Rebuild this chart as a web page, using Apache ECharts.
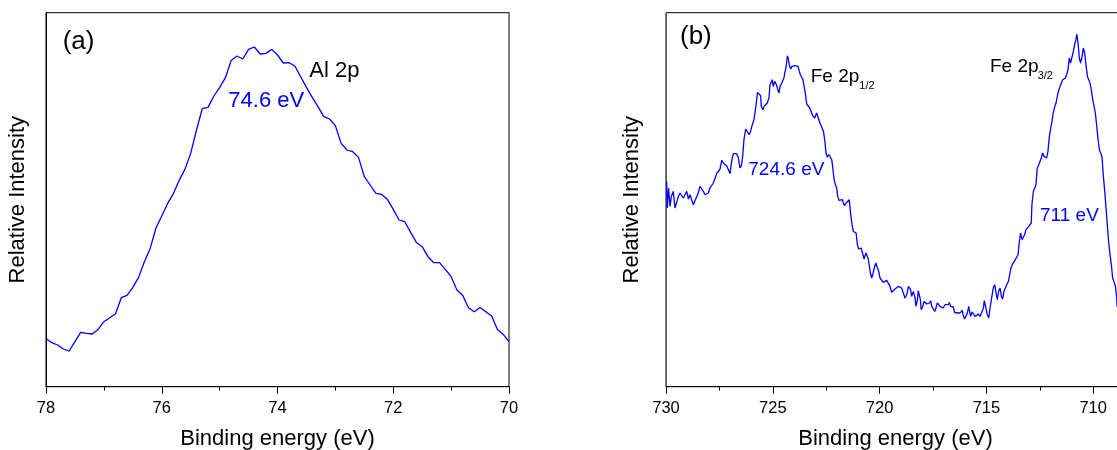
<!DOCTYPE html>
<html>
<head>
<meta charset="utf-8">
<script src="https://cdn.jsdelivr.net/npm/echarts@6/dist/echarts.min.js"></script>
<style>
html,body{margin:0;padding:0;background:#fff;}
#chart{width:1117px;height:450px;}
</style>
</head>
<body>
<div id="chart"></div>
<script>
// ---------- Panel (a): Al 2p ----------
var alEnergy = [78.0,77.9,77.8,77.7,77.6,77.5,77.4,77.3,77.2,77.1,
  77.0,76.9,76.8,76.7,76.6,76.5,76.4,76.3,76.2,76.1,
  76.0,75.9,75.8,75.7,75.6,75.5,75.4,75.3,75.2,75.1,
  75.0,74.9,74.8,74.7,74.6,74.5,74.4,74.3,74.2,74.1,
  74.0,73.9,73.8,73.7,73.6,73.5,73.4,73.3,73.2,73.1,
  73.0,72.9,72.8,72.7,72.6,72.5,72.4,72.3,72.2,72.1,
  72.0,71.9,71.8,71.7,71.6,71.5,71.4,71.3,71.2,71.1,
  71.0,70.9,70.8,70.7,70.6,70.5,70.4,70.3,70.2,70.1,70.0];
var alIntensity = [48.3,44.0,41.7,37.7,35.7,45.0,54.3,53.3,52.7,57.3,
  65.0,69.0,72.7,89.0,91.3,99.3,109.3,125.0,138.3,158.7,
  170.7,183.0,193.0,206.3,217.3,233.3,256.7,278.0,279.3,290.7,
  299.0,309.0,326.3,330.7,327.7,337.3,339.7,332.7,333.3,337.3,
  331.7,323.7,324.0,320.7,310.0,299.3,289.3,280.0,270.0,267.7,
  261.0,243.3,236.7,235.0,229.3,210.0,201.7,193.3,192.3,187.3,
  177.3,166.7,165.0,154.3,144.3,140.0,130.0,124.0,124.0,117.3,
  110.0,96.7,91.3,79.0,75.0,79.3,75.0,70.7,57.3,52.3,45.0];
var alTicks = [78, 76, 74, 72, 70];

// ---------- Panel (b): Fe 2p ----------
var feEnergy = [729.97,729.94,729.88,729.81,729.75,729.66,729.58,729.50,729.42,729.34,
  729.27,729.19,729.11,729.03,728.95,728.88,728.80,728.72,728.64,728.56,
  728.49,728.41,728.33,728.25,728.17,728.10,728.02,727.94,727.86,727.78,
  727.71,727.63,727.55,727.47,727.39,727.32,727.24,727.16,727.08,727.00,
  726.93,726.85,726.77,726.69,726.61,726.54,726.47,726.41,726.35,726.27,
  726.19,726.11,726.04,725.96,725.88,725.83,725.77,725.72,725.65,725.57,
  725.54,725.46,725.41,725.33,725.26,725.18,725.13,725.07,725.02,724.98,
  724.91,724.83,724.76,724.71,724.66,724.58,724.54,724.48,724.44,724.40,
  724.35,724.32,724.27,724.23,724.16,724.10,724.05,723.98,723.90,723.82,
  723.77,723.71,723.65,723.59,723.54,723.48,723.41,723.35,723.27,723.20,
  723.13,723.04,722.95,722.87,
  722.79,722.71,722.63,722.56,722.51,722.45,722.37,722.32,722.24,722.20,
  722.13,722.07,722.01,721.96,721.90,721.82,721.74,721.70,721.64,721.57,
  721.50,721.42,721.35,721.29,721.23,721.15,721.10,721.04,720.98,720.92,
  720.86,720.79,720.73,720.68,720.64,720.61,720.54,720.50,720.43,720.37,
  720.31,720.25,720.18,720.11,720.04,719.98,719.90,719.83,719.75,719.67,
  719.59,719.51,719.44,719.36,719.28,719.20,719.12,719.04,718.97,718.89,
  718.81,718.73,718.65,718.61,718.55,718.50,718.42,718.34,718.30,718.23,
  718.19,718.14,718.09,718.05,717.98,717.92,717.86,717.80,717.73,717.67,
  717.61,717.56,717.48,717.42,717.36,717.30,717.23,717.17,717.09,717.02,
  716.94,716.86,716.78,716.74,716.67,716.61,716.55,716.49,716.42,716.36,
  716.28,716.24,716.19,716.13,716.08,716.02,715.96,715.89,715.83,715.77,
  715.74,715.67,715.61,715.53,715.46,715.38,715.30,715.22,715.14,715.10,
  715.02,714.96,714.89,714.83,714.75,714.68,714.61,714.55,714.49,714.43,
  714.36,714.30,714.24,714.18,714.11,714.05,713.97,713.90,713.85,713.79,
  713.71,713.65,713.58,713.52,713.46,713.40,713.33,713.27,713.21,713.15,
  713.08,713.02,712.96,712.90,712.87,712.80,712.74,712.68,712.62,712.55,
  712.49,712.43,712.37,712.30,712.24,712.18,712.12,712.05,711.99,711.93,
  711.87,711.80,711.74,711.68,711.62,711.55,711.49,711.43,711.37,711.30,
  711.24,711.18,711.12,711.06,710.99,710.93,710.87,710.81,710.77,710.71,
  710.65,710.59,710.52,710.46,710.40,710.34,710.27,710.21,710.15,710.09,
  710.02,709.96,709.90,709.84,709.78,709.71,709.65,709.59,709.53,709.46,
  709.40,709.34,709.28,709.21,709.15,709.09,709.03,708.96,708.90,708.88];
var feIntensity = [205.3,178.7,198.7,180.3,190.3,195.3,178.7,177.0,190.3,193.7,
  192.0,188.7,192.0,195.3,187.7,192.0,193.7,182.0,183.0,190.3,
  193.7,200.3,198.7,195.3,192.0,191.0,193.7,198.7,200.3,203.7,
  203.0,213.0,214.3,217.7,226.3,223.7,222.0,221.0,217.0,213.0,
  225.3,233.0,234.3,233.0,228.7,218.7,221.0,230.3,247.0,257.7,
  259.7,252.0,255.3,262.0,267.0,268.7,283.7,294.3,293.0,291.0,
  280.3,277.0,280.3,282.0,283.7,288.7,302.0,303.7,307.0,300.3,
  305.3,302.0,297.0,293.7,300.3,303.7,304.3,308.7,313.7,317.0,
  324.3,331.0,327.7,322.0,317.7,320.3,319.7,321.0,322.7,320.3,
  316.3,312.0,309.7,307.0,305.3,293.7,282.7,281.0,278.7,277.0,
  271.0,268.7,273.7,268.7,
  263.7,259.7,255.3,245.3,233.7,229.7,232.0,233.0,227.0,220.3,
  207.0,202.0,198.7,190.3,186.3,185.3,187.0,184.3,181.0,183.7,
  185.3,187.0,172.0,162.0,155.3,156.0,153.7,142.0,137.7,136.3,
  138.7,137.0,127.7,127.0,133.7,134.3,128.7,123.7,113.7,108.7,
  113.0,118.7,123.7,123.0,115.3,108.7,107.0,104.3,106.0,106.3,
  104.3,100.3,94.3,95.3,97.7,99.7,100.3,101.0,98.7,93.7,
  88.7,92.0,100.3,102.0,97.0,90.3,95.3,88.7,80.3,87.0,
  96.0,95.3,87.0,77.0,80.3,85.3,86.0,82.7,84.7,83.7,
  86.0,80.3,77.7,75.3,78.7,83.7,82.0,80.3,79.7,78.7,
  82.0,83.7,82.0,84.3,80.3,78.7,79.7,74.3,73.7,73.7,
  72.0,73.7,73.7,76.3,71.0,67.7,67.0,73.7,80.3,81.0,
  70.3,74.7,74.7,70.3,72.0,72.7,70.3,68.7,78.7,86.0,
  78.7,72.0,68.7,78.7,89.3,98.7,102.0,93.7,87.0,95.3,
  98.7,90.3,87.7,95.3,98.7,102.0,105.3,107.0,118.7,122.0,
  121.3,127.0,128.7,132.0,144.7,153.7,147.0,145.3,152.0,157.0,
  158.0,160.3,162.0,163.7,182.0,195.3,198.7,202.0,218.7,222.0,
  223.7,228.7,233.7,230.3,230.3,228.7,235.3,250.3,258.7,265.3,
  273.7,280.3,283.7,290.3,296.0,300.3,303.7,307.0,305.3,308.7,
  312.0,317.0,328.7,323.7,325.3,335.3,342.0,347.0,352.7,343.7,
  328.7,323.7,330.3,338.7,333.7,322.0,310.3,309.3,303.7,297.0,
  287.0,280.3,273.7,262.0,248.7,237.0,233.7,230.3,212.0,195.3,
  178.7,162.0,145.3,132.0,122.0,108.7,105.3,100.3,88.7,80.0];
var feTicks = [730, 725, 720, 715, 710];

var FONT = 'Liberation Sans, Arial, Helvetica, sans-serif';
var BLUE = '#0000ff';

function zip(xs, ys){ return xs.map(function(x,i){ return [x, ys[i]]; }); }

function xAxisCfg(gridIndex, min, max, nameShown){
  return {
    type:'value', gridIndex:gridIndex, inverse:true, min:min, max:max, interval:(gridIndex===0?2:5),
    name: nameShown ? 'Binding energy (eV)' : '',
    nameLocation:'middle', nameGap:41,
    nameTextStyle:{fontSize:22, color:'#000', fontFamily:FONT},
    axisLine:{show:true, onZero:false, lineStyle:{color:'#000', width:1}},
    axisTick:{show:true, inside:false, length:7, lineStyle:{color:'#000', width:1}},
    minorTick:{show:true, splitNumber:2, length:4, lineStyle:{color:'#000', width:1}},
    axisLabel:{show:true, margin:13, fontSize:16.5, color:'#000', fontFamily:FONT, showMinLabel:true, showMaxLabel:true, hideOverlap:false},
    splitLine:{show:false}, minorSplitLine:{show:false}
  };
}
function yAxisCfg(gridIndex, gap, lineColor){
  return {
    type:'value', gridIndex:gridIndex, min:0, max:374,
    name:'Relative Intensity', nameLocation:'middle', nameGap:gap,
    nameTextStyle:{fontSize:22, color:'#000', fontFamily:FONT},
    axisLine:{show:true, onZero:false, lineStyle:{color:lineColor, width:1}},
    axisTick:{show:false}, axisLabel:{show:false}, splitLine:{show:false}
  };
}
function txt(x, y, text, size, color){
  return {type:'text', x:x, y:y, silent:true,
    style:{text:text, fontSize:size, fontFamily:FONT, fill:color, textAlign:'left', textVerticalAlign:'top', verticalAlign:'top'}};
}

var chart = echarts.init(document.getElementById('chart'), null, {renderer:'canvas'});
chart.setOption({
  animation:false,
  backgroundColor:'#fff',
  textStyle:{fontFamily:FONT},
  grid:[
    {left:46, top:12.7, width:463, height:374, show:true, borderColor:'#000', borderWidth:1, backgroundColor:'transparent', containLabel:false, outerBoundsMode:'none'},
    {left:666, top:12.7, width:534, height:374, show:true, borderColor:'#000', borderWidth:1, backgroundColor:'transparent', containLabel:false, outerBoundsMode:'none'}
  ],
  xAxis:[ xAxisCfg(0, alTicks[alTicks.length-1], alTicks[0], true), xAxisCfg(1, 705, feTicks[0], false) ],
  yAxis:[ yAxisCfg(0, 17, '#000'), yAxisCfg(1, 23.5, '#555') ],
  series:[
    {type:'line', xAxisIndex:0, yAxisIndex:0, data:zip(alEnergy, alIntensity), showSymbol:false, symbol:'none',
      lineStyle:{color:BLUE, width:1.3}, itemStyle:{color:BLUE}, clip:true},
    {type:'line', xAxisIndex:1, yAxisIndex:1, data:zip(feEnergy, feIntensity), showSymbol:false, symbol:'none',
      lineStyle:{color:BLUE, width:1.3}, itemStyle:{color:BLUE}, clip:true}
  ],
  graphic:[
    txt(62.7, 29.2, '(a)', 26, '#000'),
    txt(309.3, 60.4, 'Al 2p', 22, '#000'),
    txt(228.3, 89.7, '74.6 eV', 22, BLUE),
    txt(680, 24.2, '(b)', 26, '#000'),
    txt(810.7, 67.2, 'Fe 2p', 19, '#000'),
    txt(859.3, 80.7, '1/2', 11, '#000'),
    txt(990, 57.2, 'Fe 2p', 19, '#000'),
    txt(1037.7, 70.7, '3/2', 11, '#000'),
    txt(748.3, 160.6, '724.6 eV', 19, BLUE),
    txt(1040, 206.2, '711 eV', 19, BLUE),
    {type:'text', x:895.5, y:427.7, silent:true,
      style:{text:'Binding energy (eV)', fontSize:22, fontFamily:FONT, fill:'#000', textAlign:'center', textVerticalAlign:'top', verticalAlign:'top'}}
  ]
});
</script>
</body>
</html>
